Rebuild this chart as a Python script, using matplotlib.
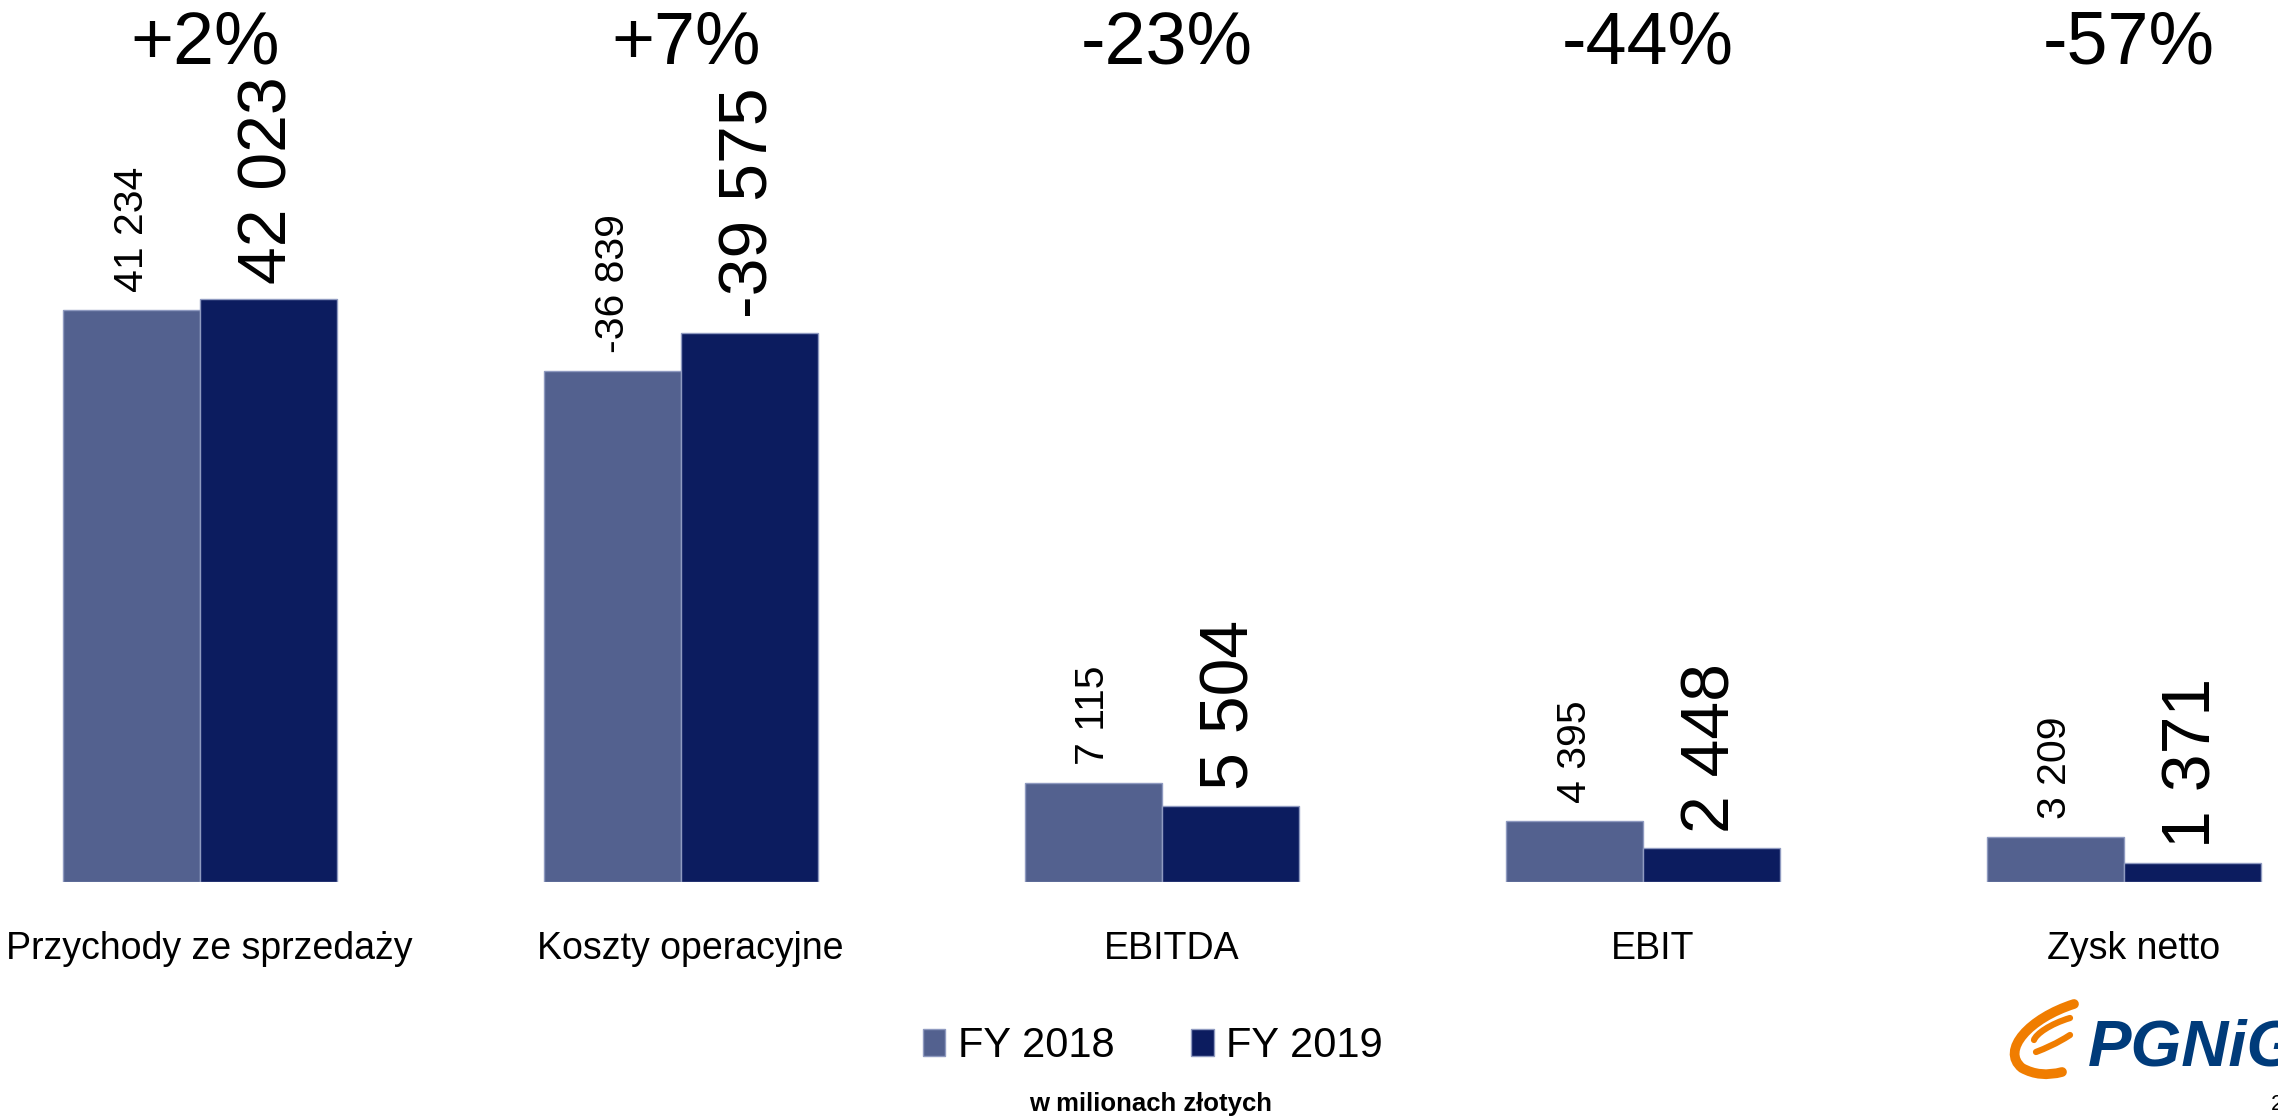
#!/usr/bin/env python3

import matplotlib as mpl
import matplotlib.pyplot as plt
import numpy as np
from matplotlib.path import Path
from matplotlib.patches import PathPatch
mpl.use("Agg")
mpl.rcParams["font.family"] = ["Liberation Sans", "DejaVu Sans"]

categories = ["Przychody ze sprzedaży", "Koszty operacyjne", "EBITDA", "EBIT", "Zysk netto"]
series_names = ["FY 2018", "FY 2019"]
fy2018 = [41234, -36839, 7115, 4395, 3209]
fy2019 = [42023, -39575, 5504, 2448, 1371]
note = "w milionach złotych"

color_2018 = "#53618F"
color_2019 = "#0C1C5F"
edge_color = "#8F9AC0"

W, H = 2278, 1116


def fmt(v):
    return ("%d" % v) if abs(v) < 1000 else "{:,}".format(v).replace(",", " ")


def main():
    fig = plt.figure(figsize=(W / 100, H / 100), dpi=100)
    # axes spans from top of figure down to bar baseline (y=882px)
    ax = fig.add_axes([0, 1 - 882 / H, 1, 882 / H])
    ax.set_axis_off()

    x = np.arange(len(categories))
    width = 137 / 481
    h18 = np.abs(fy2018)
    h19 = np.abs(fy2019)
    b1 = ax.bar(x - width / 2, h18, width, color=color_2018,
                edgecolor=edge_color, linewidth=1, label=series_names[0])
    b2 = ax.bar(x + width / 2, h19, width, color=color_2019,
                edgecolor=edge_color, linewidth=1, label=series_names[1])
    ax.set_xlim(-200 / 481, (W - 200) / 481)
    ax.set_ylim(0, 882 / 0.01387)

    # value labels
    for xi, v, h in zip(x, fy2018, h18):
        ax.annotate(fmt(v), (xi - width / 2, h), xytext=(0, 13),
                    textcoords="offset points", rotation=90,
                    ha="center", va="bottom", fontsize=29.5)
    for xi, v, h in zip(x, fy2019, h19):
        ax.annotate(fmt(v), (xi + width / 2, h), xytext=(0, 11),
                    textcoords="offset points", rotation=90,
                    ha="center", va="bottom", fontsize=49)

    # change % on top and category names below
    top_tr = mpl.transforms.blended_transform_factory(ax.transData, fig.transFigure)
    for xi, a, b, name in zip(x, fy2018, fy2019, categories):
        pct = (b / a - 1) * 100
        ax.text(xi + 0.01, 1 - 63 / H, "%+.0f%%" % pct, transform=top_tr,
                ha="center", va="baseline", fontsize=53, clip_on=False)
        ax.text(xi + 0.02, 1 - 959 / H, name, transform=top_tr,
                ha="center", va="baseline", fontsize=27, clip_on=False)

    # legend
    fig.legend(handles=[b1, b2], loc="center", bbox_to_anchor=(1153 / W, 1 - 1046 / H),
               ncol=2, frameon=False, fontsize=30, handlelength=0.53,
               handleheight=0.6, handletextpad=0.3, columnspacing=1.85,
               borderpad=0)
    fig.text(1151 / W, 1 - 1111 / H, note, ha="center", va="baseline",
             fontsize=18.5, fontweight="bold")

    # logo
    fig.text(2088 / W, 1 - 1065 / H, "PGNiG", ha="left", va="baseline",
             fontsize=47, fontweight="bold", fontstyle="italic", color="#003B7A")
    orange = "#F07D00"
    def px(pts):
        return [(p[0] / W, 1 - p[1] / H) for p in pts]
    flame = [
        [(2074, 1004), (2030, 1018), (2000, 1050), (2022, 1068), (2040, 1078), (2062, 1072)],
        [(2070, 1018), (2050, 1024), (2036, 1034), (2034, 1040)],
        [(2070, 1035), (2056, 1044), (2046, 1048), (2036, 1052)],
    ]
    for i, pts in enumerate(flame):
        if i == 0:
            codes = [Path.MOVETO, Path.CURVE4, Path.CURVE4, Path.CURVE4, Path.CURVE3, Path.CURVE3]
            lw = 7
        else:
            codes = [Path.MOVETO, Path.CURVE4, Path.CURVE4, Path.CURVE4]
            lw = 4.5
        patch = PathPatch(Path(px(pts), codes), transform=fig.transFigure,
                          facecolor="none", edgecolor=orange, linewidth=lw,
                          capstyle="round")
        fig.add_artist(patch)
    fig.text(2271 / W, 1 - 1110 / H, "2", ha="left", va="baseline", fontsize=16)

    fig.savefig("out.png", dpi=100)
    plt.close()


if __name__ == "__main__":
    main()
